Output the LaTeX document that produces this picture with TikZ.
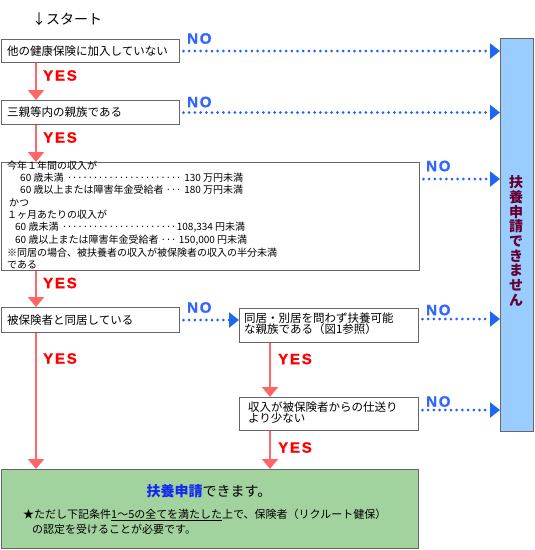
\documentclass[tikz,border=0pt]{standalone}
\usepackage{fontspec}
\setmainfont{Noto Sans CJK JP}
\newfontfamily\lblfont[LetterSpace=12,FakeBold=1.2]{Liberation Sans Bold}
\usetikzlibrary{arrows.meta,calc}
\definecolor{boxgray}{HTML}{666666}
\definecolor{yesline}{HTML}{FF6666}
\definecolor{yestext}{HTML}{FF0000}
\definecolor{notext}{HTML}{3366FF}
\definecolor{nodot}{HTML}{1F66F2}
\definecolor{okgreen}{HTML}{A2D29E}
\definecolor{ngblue}{HTML}{99CCFF}
\definecolor{ngtext}{HTML}{660033}
\definecolor{okblue}{HTML}{1428F0}
\newcommand\dotrow[3]{\hbox to #1{#2\leaders\hbox to 5.2pt{\hss·\hss}\hfill#3}}
\begin{document}
\begin{tikzpicture}[x=1pt,y=-1pt,
  box/.style={draw=boxgray,line width=1pt,fill=white,inner sep=0pt,anchor=north west},
  txt/.style={inner sep=0pt,anchor=west,text=black,font=\fontsize{11.5}{11.5}\selectfont},
  small/.style={inner sep=0pt,anchor=west,text=black,font=\fontsize{10}{12}\selectfont},
  yeslbl/.style={inner sep=0pt,anchor=west,text=yestext,font=\lblfont\fontsize{15}{15}\selectfont},
  nolbl/.style={inner sep=0pt,anchor=west,text=notext,font=\lblfont\fontsize{15}{15}\selectfont},
  yesarrow/.style={draw=yesline,line width=2pt,-{Triangle[length=10pt,width=16pt]}},
  noarrow/.style={draw=nodot,line width=3pt,line cap=round,dash pattern=on 0pt off 5.7pt,-{Triangle[length=10pt,width=15pt]}}
]
\useasboundingbox (0,0) rectangle (535,550);

% start
\node[inner sep=0pt,anchor=west,font=\fontsize{14}{14}\selectfont] (start) at (32,19) {↓スタート};

% boxes
\node[box,minimum width=178pt,minimum height=23pt] (b1) at (1,39) {};
\node[box,minimum width=178pt,minimum height=24pt] (b2) at (1,100) {};
\node[box,minimum width=418pt,minimum height=108pt] (b3) at (1,162) {};
\node[box,minimum width=178pt,minimum height=25pt] (b4) at (1,307) {};
\node[box,minimum width=179pt,minimum height=34pt] (b5) at (239,308) {};
\node[box,minimum width=179pt,minimum height=33pt] (b6) at (239,397) {};
\node[box,fill=okgreen,minimum width=417pt,minimum height=79pt] (b7) at (1,469) {};
\node[box,fill=ngblue,minimum width=33pt,minimum height=393pt] (R) at (500,38) {};

% box texts
\node[txt] (t1) at ($(b1.west)+(6,0)$) {他の健康保険に加入していない};
\node[txt] (t2) at ($(b2.west)+(6,0)$) {三親等内の親族である};
\node[txt] (t4) at ($(b4.west)+(6,0)$) {被保険者と同居している};
\node[txt,align=left,font=\fontsize{11.5}{11.5}\selectfont] (t5) at (244,323.5) {同居・別居を問わず扶養可能\\な親族である（図1参照）};
\node[txt,align=left,font=\fontsize{11.5}{11.5}\selectfont] (t6) at (248,412.5) {収入が被保険者からの仕送り\\より少ない};

% box 3 lines
\node[small] (l1) at (7,165.5) {今年１年間の収入が};
\node[small] (l2) at (20,177.5) {\dotrow{223pt}{60 歳未満 }{130 万円未満}};
\node[small] (l3) at (20,190) {\dotrow{223pt}{60 歳以上または障害年金受給者 }{180 万円未満}};
\node[small] (l4) at (9,202.5) {かつ};
\node[small] (l5) at (7,215) {１ヶ月あたりの収入が};
\node[small] (l6) at (15,227.5) {\dotrow{230pt}{60 歳未満}{108,334 円未満}};
\node[small] (l7) at (15,240) {\dotrow{232pt}{60 歳以上または障害年金受給者}{150,000 円未満}};
\node[small] (l8) at (7,252.5) {※同居の場合、被扶養者の収入が被保険者の収入の半分未満};
\node[small] (l9) at (7,264.5) {である};

% green box text
\node[inner sep=0pt,font=\fontsize{14}{14}\selectfont] (g1) at (209,491) {\textcolor{okblue}{\bfseries 扶養申請}できます。};
\node[inner sep=0pt,anchor=west,font=\fontsize{11}{11}\selectfont] (g2) at (23,515) {★ただし下記条件\underline{1～5の全てを満たした}上で、保険者（リクルート健保）};
\node[inner sep=0pt,anchor=west,font=\fontsize{11}{11}\selectfont] (g3) at (32,529) {の認定を受けることが必要です。};

% right box text
\node[inner sep=0pt,align=center,text=ngtext,font=\bfseries\fontsize{14}{14.7}\selectfont] (ng) at (516,241) {扶\\養\\申\\請\\で\\き\\ま\\せ\\ん};

% YES connectors
\coordinate (lx) at (36,0);
\coordinate (rx) at (270,0);
\draw[yesarrow] (lx |- b1.south) -- (lx |- b2.north);
\draw[yesarrow] (lx |- b2.south) -- (lx |- b3.north);
\draw[yesarrow] (lx |- b3.south) -- (lx |- b4.north);
\draw[yesarrow] (lx |- b4.south) -- (lx |- b7.north);
\draw[yesarrow] (rx |- b5.south) -- (rx |- b6.north);
\draw[yesarrow] (rx |- b6.south) -- (rx |- b7.north);
\node[yeslbl] (y1) at (43,75.5) {YES};
\node[yeslbl] (y2) at (43,137.5) {YES};
\node[yeslbl] (y3) at (43,283) {YES};
\node[yeslbl] (y4) at (43,358.5) {YES};
\node[yeslbl] (y5) at (278,359) {YES};
\node[yeslbl] (y6) at (278,447.5) {YES};

% NO connectors
\coordinate (o1) at ($(b1.east)+(3.5,0)$);
\coordinate (o2) at ($(b2.east)+(3.5,0)$);
\coordinate (o3) at ($(b3.north east)+(3.5,17)$);
\coordinate (o4) at ($(b4.east)+(3.5,0)$);
\coordinate (o5) at ($(b5.north east)+(3.5,11)$);
\coordinate (o6) at ($(b6.north east)+(3.5,13)$);
\draw[noarrow] (o1) -- (R.west |- o1);
\draw[noarrow] (o2) -- (R.west |- o2);
\draw[noarrow] (o3) -- (R.west |- o3);
\draw[noarrow] (o4) -- (b5.west |- o4);
\draw[noarrow] (o5) -- (R.west |- o5);
\draw[noarrow] (o6) -- (R.west |- o6);
\node[nolbl] (n1) at (187,38.5) {NO};
\node[nolbl] (n2) at (187,102) {NO};
\node[nolbl] (n3) at (426,166) {NO};
\node[nolbl] (n4) at (187,307.5) {NO};
\node[nolbl] (n5) at (426,310) {NO};
\node[nolbl] (n6) at (426,401.5) {NO};
\end{tikzpicture}
\end{document}
